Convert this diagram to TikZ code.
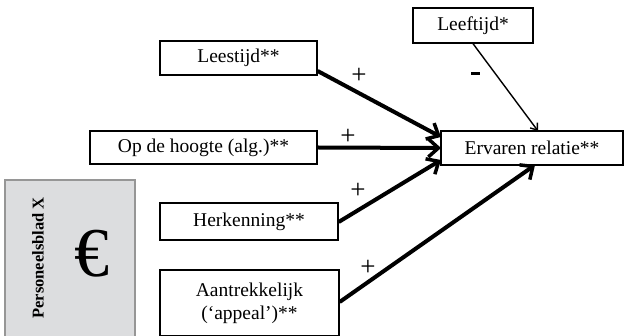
\documentclass[tikz,border=0pt]{standalone}
\usepackage{fontspec}
\setmainfont{Liberation Serif}
\usetikzlibrary{arrows.meta}
\begin{document}
\begin{tikzpicture}[x=1pt,y=-1pt,
  box/.style={draw=black,line width=1.3pt,fill=white,inner sep=0pt,font=\fontsize{19.5}{23}\selectfont,align=center},
  strong/.style={line width=4pt,-{Straight Barb[length=10pt,width=18pt,line width=3.5pt]}},
  weak/.style={line width=1.4pt,-{Straight Barb[length=6pt,width=9pt,line width=1.4pt]}},
  sign/.style={font=\fontsize{27}{28}\selectfont,inner sep=0pt}]
\useasboundingbox (0,0) rectangle (627,336);
% grey side panel with the euro sign
\node[draw={rgb,255:red,150;green,150;blue,150},line width=1.5pt,fill={rgb,255:red,220;green,221;blue,223},
  minimum width=130pt,minimum height=170pt,inner sep=0pt] (panel) at (70,265) {};
\node[rotate=90,font=\fontsize{16.5}{18}\selectfont\bfseries] (paneltitle) at (38,258) {Personeelsblad X};
\node[font=\fontsize{70}{72}\selectfont] (euro) at (92,254) {€};
% factor boxes
\node[box,minimum width=157pt,minimum height=34pt] (lees) at (238.5,58) {Leestijd**};
\node[box,minimum width=227pt,minimum height=33pt] (hoog) at (203.5,147.5) {Op de hoogte (alg.)**};
\node[box,minimum width=178pt,minimum height=37pt] (herk) at (249,221.5) {Herkenning**};
\node[box,minimum width=179pt,minimum height=66pt] (aant) at (249.5,303) {Aantrekkelijk\\(‘appeal’)**};
\node[box,minimum width=120pt,minimum height=35pt] (leef) at (473,25.5) {Leeftijd*};
\node[box,minimum width=182pt,minimum height=34pt] (erv) at (532,148) {Ervaren relatie**};
% effects
\coordinate (e1) at (441,137);
\coordinate (e2) at (441,148);
\coordinate (e3) at (441,160);
\coordinate (e4) at (535,165);
\coordinate (e5) at (538,131);
\draw[strong] (lees.east |- 0,71) -- (e1);
\draw[strong] (hoog.east) -- (e2);
\draw[strong] (herk.east |- 0,222) -- (e3);
\draw[strong] (aant.east |- 0,302) -- (e4);
\draw[weak] (leef.south -| 473,0) -- (e5);
\node[sign] (s1) at (359,76) {+};
\node[sign] (s2) at (348,137) {+};
\node[sign] (s3) at (358,191) {+};
\node[sign] (s4) at (368,268) {+};
\fill (471,72) rectangle (480,75.5);
\end{tikzpicture}
\end{document}
